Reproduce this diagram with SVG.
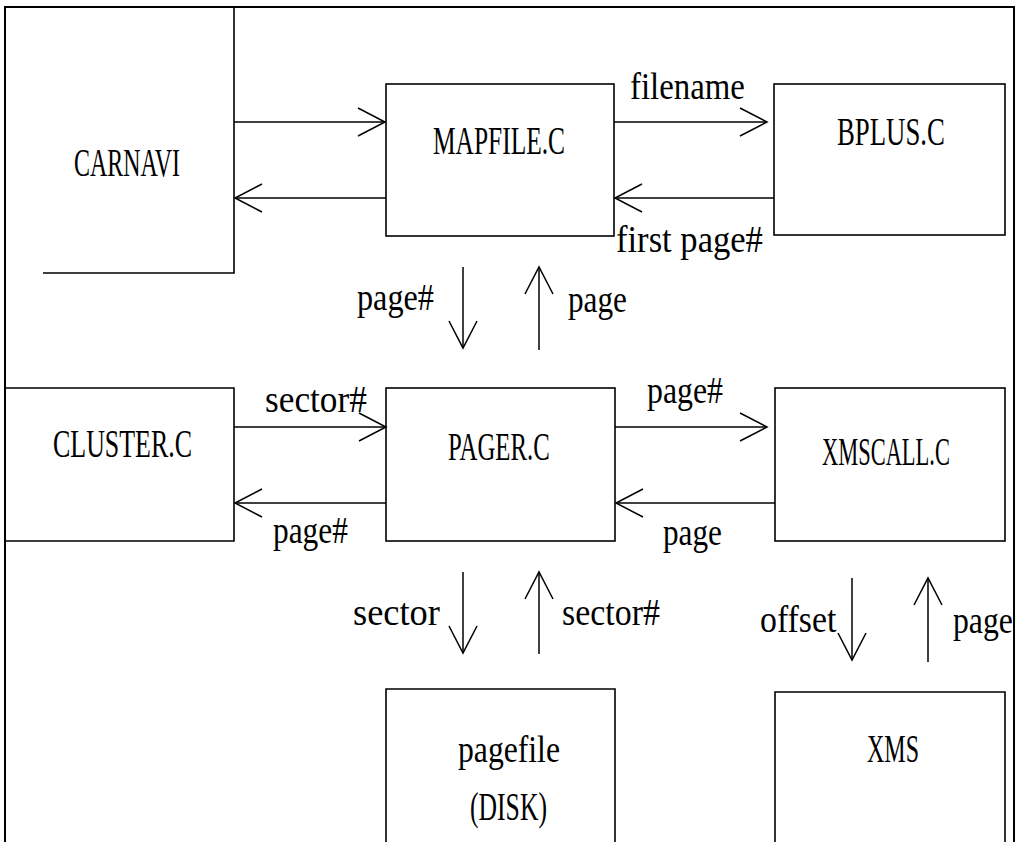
<svg xmlns="http://www.w3.org/2000/svg" width="1020" height="842" viewBox="0 0 1020 842">
<style>
.box{fill:none;stroke:#000;stroke-width:1.6}
.frame{fill:none;stroke:#000;stroke-width:2}
.arr{fill:none;stroke:#000;stroke-width:1.5;marker-end:url(#a)}
text{font-family:"Liberation Serif","Times New Roman",serif;fill:#000}
.n{font-size:39px}
.l{font-size:37px}
</style>
<defs>
<marker id="a" markerWidth="30" markerHeight="30" refX="28" refY="15" orient="auto" markerUnits="userSpaceOnUse" viewBox="0 0 30 30">
<path d="M1,1 L28,15 L1,29" fill="none" stroke="#000" stroke-width="1.5"/>
</marker>
</defs>
<rect width="1020" height="842" fill="#fff"/>
<g id="frame">
<path class="frame" d="M5,842 V7 H1014 V842"/>
</g>
<g id="carnavi">
<path class="box" d="M234,7 V273 H43"/>
<text class="n" transform="translate(74,176) scale(0.614,1)">CARNAVI</text>
</g>
<g id="mapfile">
<rect class="box" x="386" y="84" width="228" height="152"/>
<text class="n" transform="translate(433,154) scale(0.652,1)">MAPFILE.C</text>
</g>
<g id="bplus">
<rect class="box" x="774" y="84" width="231" height="151"/>
<text class="n" transform="translate(837,145) scale(0.687,1)">BPLUS.C</text>
</g>
<g id="cluster">
<path class="box" d="M5,388 H234 V541 H5"/>
<text class="n" transform="translate(53,457) scale(0.665,1)">CLUSTER.C</text>
</g>
<g id="pager">
<rect class="box" x="386" y="388" width="229" height="153"/>
<text class="n" transform="translate(448,460) scale(0.636,1)">PAGER.C</text>
</g>
<g id="xmscall">
<rect class="box" x="775" y="388" width="230" height="153"/>
<text class="n" transform="translate(822,465) scale(0.576,1)">XMSCALL.C</text>
</g>
<g id="pagefile">
<path class="box" d="M386,845 V689 H615 V845"/>
<text class="l" transform="translate(458,762) scale(0.856,1)">pagefile</text>
<text class="n" font-size="37" transform="translate(470,820) scale(0.658,1)">(DISK)</text>
</g>
<g id="xms">
<path class="box" d="M775,845 V692 H1005 V845"/>
<text class="n" transform="translate(867,762) scale(0.615,1)">XMS</text>
</g>
<g id="connectors">
<line class="arr" x1="234" y1="122" x2="385" y2="122"/>
<line class="arr" x1="386" y1="198" x2="235" y2="198"/>
<line class="arr" x1="614" y1="122" x2="767" y2="122"/>
<line class="arr" x1="774" y1="198" x2="615" y2="198"/>
<line class="arr" x1="463" y1="267" x2="463" y2="348"/>
<line class="arr" x1="539" y1="350" x2="539" y2="267"/>
<line class="arr" x1="234" y1="427" x2="386" y2="427"/>
<line class="arr" x1="386" y1="503" x2="235" y2="503"/>
<line class="arr" x1="615" y1="427" x2="767" y2="427"/>
<line class="arr" x1="775" y1="503" x2="616" y2="503"/>
<line class="arr" x1="463" y1="572" x2="463" y2="653"/>
<line class="arr" x1="539" y1="654" x2="539" y2="572"/>
<line class="arr" x1="852" y1="578" x2="852" y2="660"/>
<line class="arr" x1="928" y1="662" x2="928" y2="578"/>
<text class="l" transform="translate(630,99) scale(0.888,1)">filename</text>
<text class="l" transform="translate(616,252) scale(0.935,1)">first page#</text>
<text class="l" transform="translate(357,310) scale(0.871,1)">page#</text>
<text class="l" transform="translate(568,312) scale(0.844,1)">page</text>
<text class="l" transform="translate(265,412) scale(0.954,1)">sector#</text>
<text class="l" transform="translate(273,543) scale(0.848,1)">page#</text>
<text class="l" transform="translate(647,403) scale(0.86,1)">page#</text>
<text class="l" transform="translate(663,545) scale(0.844,1)">page</text>
<text class="l" transform="translate(353,625) scale(0.984,1)">sector</text>
<text class="l" transform="translate(562,625) scale(0.917,1)">sector#</text>
<text class="l" transform="translate(760,632) scale(0.914,1)">offset</text>
<text class="l" transform="translate(953,633) scale(0.858,1)">page</text>
</g>
</svg>
